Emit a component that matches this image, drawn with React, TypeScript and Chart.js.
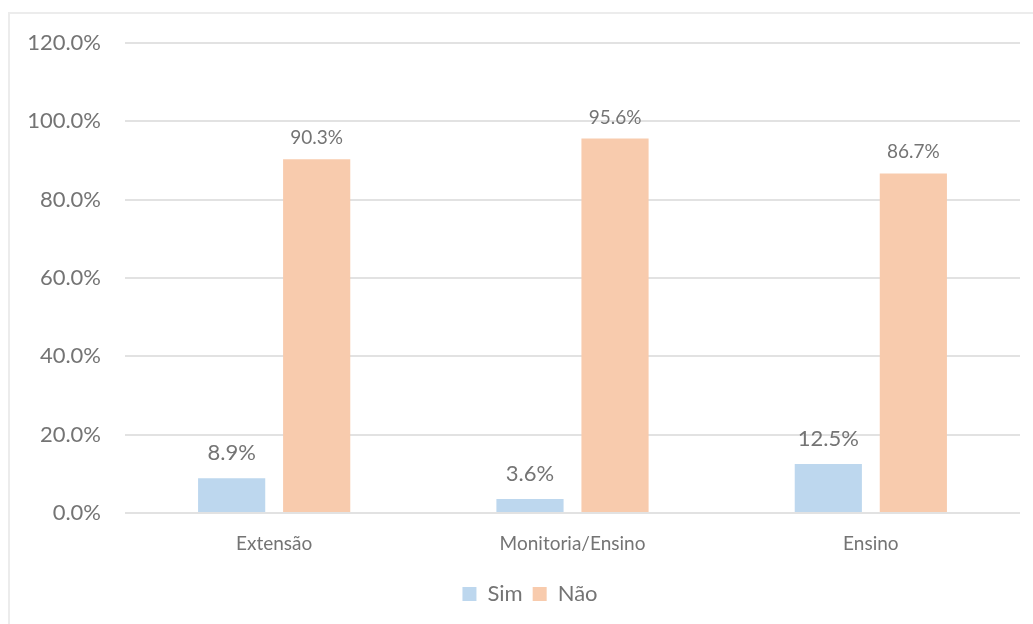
import React, { useEffect, useRef } from "react";
import { Chart, registerables } from "chart.js";

Chart.register(...registerables);

const categories = ["Extensão", "Monitoria/Ensino", "Ensino"];
const seriesNames = ["Sim", "Não"];
const simValues = [8.9, 3.6, 12.5];
const naoValues = [90.3, 95.6, 86.7];
const yMin = 0;
const yMax = 120;
const yStep = 20;

const SIM_COLOR = "#BDD7EE";
const NAO_COLOR = "#F8CBAD";
const TEXT_COLOR = "#747474";
const FONT = "Lato";

const barLabels = {
  id: "barLabels",
  afterDatasetsDraw(chart: any) {
    const ctx = chart.ctx;
    chart.data.datasets.forEach((ds: any, i: number) => {
      const meta = chart.getDatasetMeta(i);
      const size = i === 0 ? 22 : 19;
      const off = i === 0 ? 18 : 15;
      meta.data.forEach((el: any, j: number) => {
        ctx.save();
        ctx.font = `${size}px ${FONT}`;
        ctx.fillStyle = TEXT_COLOR;
        ctx.textAlign = "center";
        ctx.textBaseline = "alphabetic";
        ctx.fillText(Number(ds.data[j]).toFixed(1) + "%", el.x, el.y - off);
        ctx.restore();
      });
    });
  },
};

const legendShift = {
  id: "legendShift",
  afterLayout(chart: any) {
    if (chart.legend) {
      chart.legend.left += 20;
      chart.legend.right += 20;
    }
  },
};

export default function App() {
  const ref = useRef<HTMLCanvasElement | null>(null);

  useEffect(() => {
    if (!ref.current) return;
    const chart = new Chart(ref.current, {
      type: "bar",
      data: {
        labels: categories,
        datasets: [
          {
            label: seriesNames[0],
            data: simValues,
            backgroundColor: SIM_COLOR,
            categoryPercentage: 0.57,
            barPercentage: 0.79,
          },
          {
            label: seriesNames[1],
            data: naoValues,
            backgroundColor: NAO_COLOR,
            categoryPercentage: 0.57,
            barPercentage: 0.79,
          },
        ],
      },
      options: {
        animation: false,
        responsive: false,
        maintainAspectRatio: false,
        layout: { padding: { top: 43, left: 0, right: 13, bottom: 9 } },
        plugins: {
          tooltip: { enabled: false },
          legend: {
            position: "bottom",
            labels: {
              boxWidth: 14,
              boxHeight: 14,
              padding: 10,
              color: TEXT_COLOR,
              font: { family: FONT, size: 22 },
            },
          },
        },
        scales: {
          x: {
            grid: { display: false, drawTicks: false },
            border: { display: false },
            ticks: {
              color: TEXT_COLOR,
              font: { family: FONT, size: 19 },
              padding: 19,
              maxRotation: 0,
            },
            afterFit(scale: any) {
              scale.height = 60;
            },
          },
          y: {
            min: yMin,
            max: yMax,
            grid: { color: "#e2e2e2", lineWidth: 2, drawTicks: false },
            border: { display: false },
            ticks: {
              stepSize: yStep,
              color: TEXT_COLOR,
              font: { family: FONT, size: 22 },
              padding: 24,
              callback: (v: any) => Number(v).toFixed(1) + "%",
            },
            afterFit(scale: any) {
              scale.width = 125;
            },
          },
        },
      },
      plugins: [barLabels, legendShift],
    });
    return () => chart.destroy();
  }, []);

  return (
    <div
      style={{
        position: "fixed",
        left: 0,
        top: 0,
        width: 1033,
        height: 624,
        overflow: "hidden",
        background: "#fff",
      }}
    >
      <div
        style={{
          position: "absolute",
          left: 8,
          top: 12,
          width: 2000,
          height: 2000,
          border: "2px solid #ececec",
        }}
      />
      <canvas
        ref={ref}
        width={1033}
        height={624}
        style={{ position: "absolute", left: 0, top: 0 }}
      />
    </div>
  );
}
